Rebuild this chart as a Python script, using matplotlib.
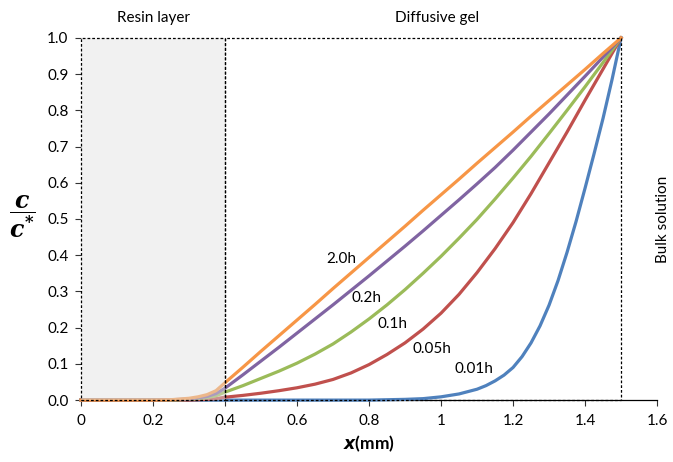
import numpy as np
import matplotlib
matplotlib.use("Agg")
import matplotlib.pyplot as plt
from matplotlib.patches import Rectangle

plt.rcParams['font.family'] = ['Lato', 'DejaVu Sans']
plt.rcParams['mathtext.fontset'] = 'custom'
plt.rcParams['mathtext.it'] = 'DejaVu Serif:bold:italic'
plt.rcParams['mathtext.rm'] = 'DejaVu Serif:bold'
plt.rcParams['mathtext.sf'] = 'DejaVu Sans:bold:italic'

# distance from the resin side (mm)
x_common = [0, 0.2, 0.25, 0.3, 0.325, 0.35, 0.375,
            0.40, 0.45, 0.50, 0.55, 0.60, 0.65, 0.70, 0.75, 0.80, 0.85, 0.90,
            0.95, 1.00, 1.05, 1.10, 1.15, 1.20, 1.25, 1.30, 1.35, 1.40, 1.45, 1.50]

c_2h = [0, 0, 0.001, 0.005, 0.009, 0.015, 0.026,
        0.048, 0.091, 0.135, 0.178, 0.221, 0.264, 0.308, 0.351, 0.394, 0.437, 0.480,
        0.524, 0.567, 0.610, 0.654, 0.697, 0.740, 0.784, 0.827, 0.870, 0.913, 0.957, 1.0]
c_02h = [0, 0, 0.001, 0.003, 0.006, 0.010, 0.018,
         0.033, 0.070, 0.108, 0.146, 0.185, 0.224, 0.263, 0.303, 0.343, 0.384, 0.425,
         0.467, 0.510, 0.553, 0.597, 0.642, 0.690, 0.740, 0.790, 0.842, 0.894, 0.947, 1.0]
c_01h = [0, 0, 0, 0.002, 0.004, 0.007, 0.012,
         0.022, 0.040, 0.060, 0.080, 0.102, 0.127, 0.155, 0.188, 0.224, 0.263, 0.305,
         0.350, 0.397, 0.447, 0.499, 0.555, 0.613, 0.673, 0.736, 0.800, 0.865, 0.932, 1.0]
c_005h = [0, 0, 0, 0, 0.001, 0.002, 0.004,
          0.008, 0.013, 0.019, 0.026, 0.034, 0.044, 0.057, 0.075, 0.098, 0.126, 0.158,
          0.196, 0.240, 0.292, 0.352, 0.418, 0.490, 0.570, 0.655, 0.740, 0.828, 0.914, 1.0]

x_001h = [0, 0.4, 0.8, 0.9, 0.95, 1.0, 1.05, 1.1, 1.125, 1.15, 1.175, 1.2, 1.225,
          1.25, 1.275, 1.3, 1.325, 1.35, 1.375, 1.4, 1.425, 1.45, 1.475, 1.5]
c_001h = [0, 0, 0, 0.002, 0.004, 0.009, 0.017, 0.030, 0.040, 0.053, 0.069, 0.090, 0.120,
          0.158, 0.205, 0.262, 0.330, 0.408, 0.493, 0.585, 0.680, 0.778, 0.885, 1.0]

fig = plt.figure(figsize=(6.73, 4.62), dpi=100)
ax = fig.add_axes([0.1204, 0.134, 0.8559, 0.784])

lw = 2.3
style = dict(lw=lw, clip_on=False, zorder=3, solid_joinstyle='round')
ax.plot(x_001h, c_001h, color='#4F81BD', **style)
ax.plot(x_common, c_005h, color='#C0504D', **style)
ax.plot(x_common, c_01h, color='#9BBB59', **style)
ax.plot(x_common, c_02h, color='#8064A2', **style)
ax.plot(x_common, c_2h, color='#F79646', **style)

# resin layer (shaded) and diffusive gel boxes
dash = (0, (2.2, 1.6))
ax.add_patch(Rectangle((0, 0), 0.4, 1.0, facecolor='#e0e0e0', alpha=0.45,
                       edgecolor='none', zorder=4, clip_on=False))
ax.add_patch(Rectangle((0, 0), 0.4, 1.0, fill=False, edgecolor='black',
                       lw=0.9, ls=dash, zorder=5, clip_on=False))
ax.add_patch(Rectangle((0.4, 0), 1.1, 1.0, fill=False, edgecolor='black',
                       lw=0.9, ls=dash, zorder=5, clip_on=False))

fs = 11
ax.text(0.722, 0.39, '2.0h', fontsize=fs, ha='center', va='center')
ax.text(0.794, 0.282, '0.2h', fontsize=fs, ha='center', va='center')
ax.text(0.865, 0.21, '0.1h', fontsize=fs, ha='center', va='center')
ax.text(0.976, 0.141, '0.05h', fontsize=fs, ha='center', va='center')
ax.text(1.092, 0.086, '0.01h', fontsize=fs, ha='center', va='center')

ax.text(0.2, 1.055, 'Resin layer', fontsize=fs, ha='center', va='center')
ax.text(0.99, 1.055, 'Diffusive gel', fontsize=fs, ha='center', va='center')
ax.text(1.617, 0.5, 'Bulk solution', fontsize=fs, ha='center', va='center',
        rotation=90, clip_on=False)

ax.set_xlim(0, 1.6)
ax.set_ylim(0, 1.0)
ax.set_xticks(np.arange(0, 1.61, 0.2))
ax.set_xticklabels(['0', '0.2', '0.4', '0.6', '0.8', '1', '1.2', '1.4', '1.6'])
ax.set_yticks(np.arange(0, 1.01, 0.1))
ax.set_yticklabels(['%.1f' % v for v in np.arange(0, 1.01, 0.1)])
ax.tick_params(labelsize=fs, length=4, width=0.8, color='#333333')
ax.tick_params(axis='x', pad=6)
ax.tick_params(axis='y', pad=5)

for s in ['top', 'right', 'left']:
    ax.spines[s].set_visible(False)
ax.spines['bottom'].set_linewidth(0.9)

ax.set_xlabel(r'$\mathsf{x}$(mm)', fontsize=12.5, fontweight='bold', labelpad=4)
fig.text(0.033, 0.53, r'$\dfrac{c}{c^{*}}$', fontsize=17, ha='center', va='center')

fig.savefig('out.png', dpi=100)
